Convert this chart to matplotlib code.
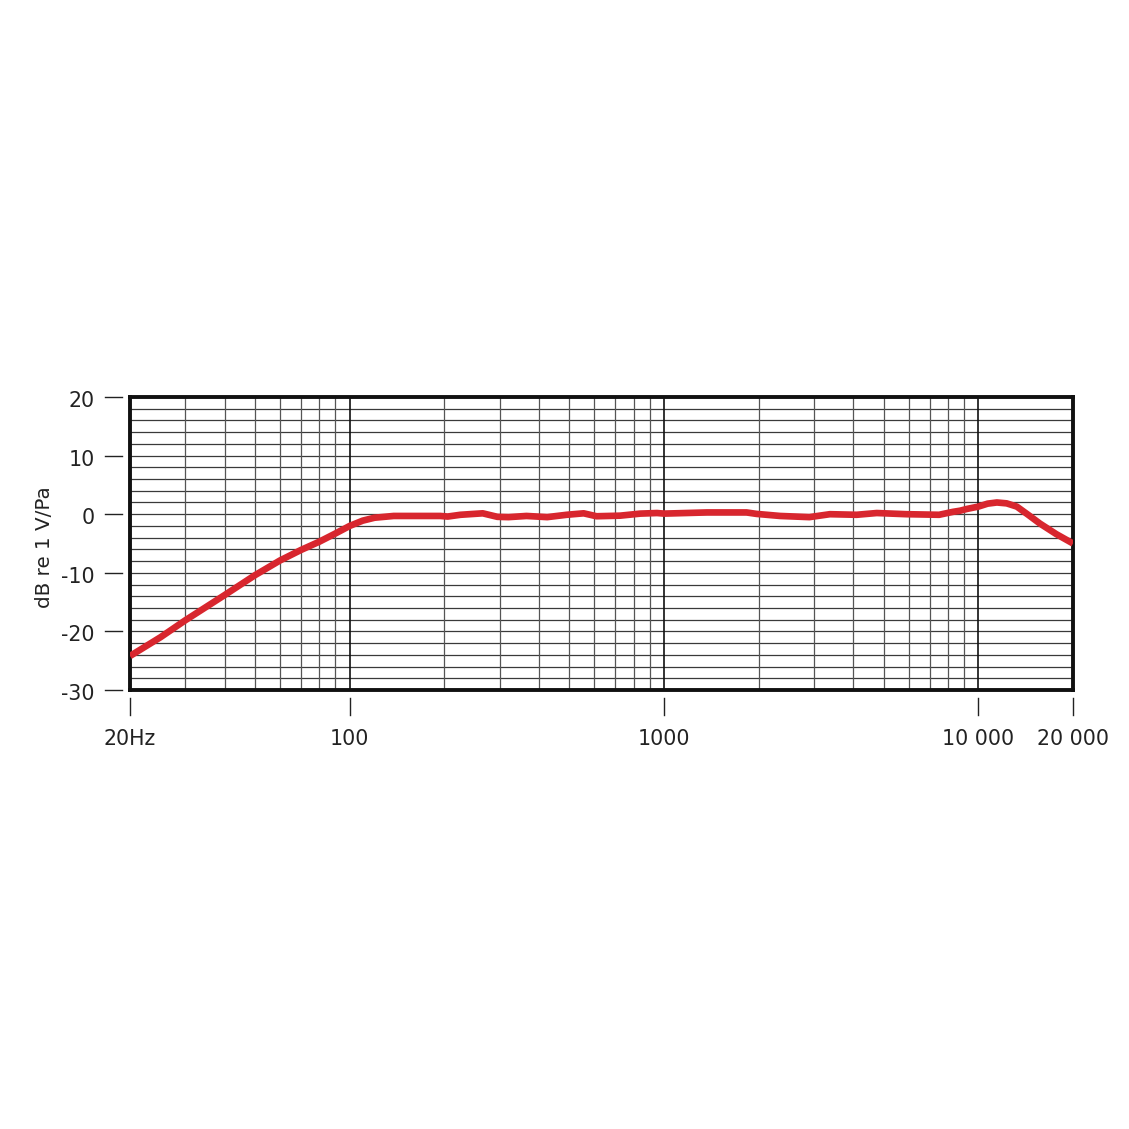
import matplotlib
matplotlib.use("Agg")
import matplotlib.pyplot as plt
import matplotlib.transforms as mtransforms

plt.rcParams['font.family'] = ['DejaVu Sans']

# ---- data ----
freq_hz = [20, 25, 30, 35, 40, 50, 60, 70, 80, 90, 100, 110, 120, 138, 165, 194,
           205, 225, 265, 295, 320, 365, 425, 490, 555, 610, 725, 840, 950,
           1000, 1370, 1830, 1970, 2340, 2900, 3370, 4100, 4750, 5900, 7500,
           8300, 8750, 9200, 10000, 10700, 11450, 12300, 13250, 14400, 15700,
           17700, 20000]
response_db = [-24.2, -21.0, -18.1, -15.8, -13.8, -10.4, -7.9, -6.1, -4.7, -3.3,
               -2.0, -1.1, -0.6, -0.3, -0.3, -0.3, -0.4, -0.1, 0.15, -0.45,
               -0.5, -0.3, -0.5, -0.1, 0.15, -0.35, -0.25, 0.1, 0.2, 0.1, 0.3,
               0.3, 0.05, -0.3, -0.5, 0.0, -0.1, 0.2, 0.0, -0.1, 0.4, 0.6, 0.9,
               1.3, 1.8, 2.0, 1.85, 1.3, -0.1, -1.6, -3.4, -5.0]

x_tick_vals = [20, 100, 1000, 10000, 20000]
x_tick_labels = ['20Hz', '100', '1000', '10 000', '20 000']
y_tick_vals = [20, 10, 0, -10, -20, -30]
y_tick_labels = ['20', '10', '0', '-10', '-20', '-30']
minor_freqs = [30, 40, 50, 60, 70, 80, 90, 200, 300, 400, 500, 600, 700, 800, 900,
               2000, 3000, 4000, 5000, 6000, 7000, 8000, 9000]
major_freqs = [100, 1000, 10000]
h_grid_db = list(range(-28, 20, 2))

W, H = 1129, 1129
fig = plt.figure(figsize=(W / 100, H / 100), dpi=100)
left, right, top, bottom = 130, 1073, 397, 690
ax = fig.add_axes([left / W, 1 - bottom / H, (right - left) / W, (bottom - top) / H])
ax.set_xscale('log')
ax.set_xlim(20, 20000)
ax.set_ylim(-30, 20)

for yv in h_grid_db:
    ax.axhline(yv, color='#3a3a3a', lw=0.9, zorder=1)
for fv in minor_freqs:
    ax.axvline(fv, color='#555555', lw=0.9, zorder=1)
for fv in major_freqs:
    ax.axvline(fv, color='#111111', lw=1.2, zorder=1)

ax.plot(freq_hz, response_db, color='#d8262e', lw=4.8, solid_capstyle='butt',
        solid_joinstyle='round', zorder=3)

for s in ax.spines.values():
    s.set_linewidth(2.8)
    s.set_color('#111111')
ax.set_xticks([])
ax.set_yticks([])
ax.minorticks_off()

# custom ticks with a gap from the frame
bx = mtransforms.blended_transform_factory(ax.transData, ax.transAxes)
by = mtransforms.blended_transform_factory(ax.transAxes, ax.transData)
ah = (bottom - top)
aw = (right - left)
for xv, lab in zip(x_tick_vals, x_tick_labels):
    ax.plot([xv, xv], [-8 / ah, -25 / ah], transform=bx, color='#222222', lw=1.0,
            clip_on=False)
    ax.text(xv, -49 / ah, lab, transform=bx, ha='center', va='center',
            fontsize=14.8, color='#222222')
label_shift = mtransforms.ScaledTranslation(0, -4 / 100, fig.dpi_scale_trans)
for yv, lab in zip(y_tick_vals, y_tick_labels):
    ax.plot([-8 / aw, -25 / aw], [yv, yv], transform=by, color='#222222', lw=1.0,
            clip_on=False)
    ax.text(-35 / aw, yv, lab, transform=by + label_shift, ha='right', va='center',
            fontsize=14.8, color='#222222')

fig.text(44 / W, 1 - 547 / H, 'dB re 1 V/Pa', rotation=90, ha='center',
         va='center', fontsize=14.3, color='#222222')

fig.savefig('out.png', dpi=100, facecolor='white')
